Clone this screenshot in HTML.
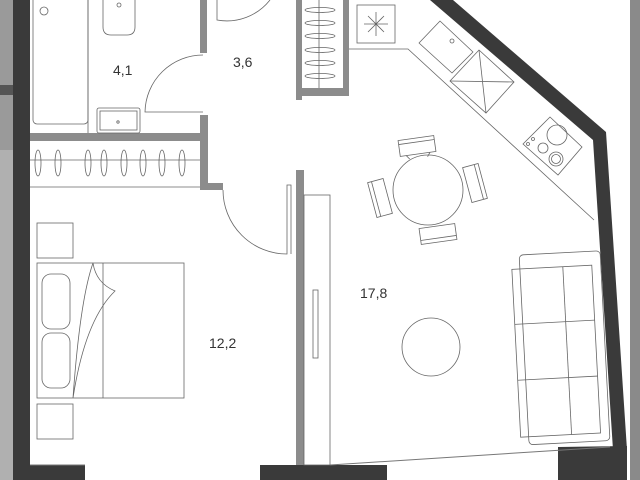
<!DOCTYPE html>
<html><head><meta charset="utf-8"><style>
html,body{margin:0;padding:0;background:#fff;width:640px;height:480px;overflow:hidden}
svg{display:block}
text{font-family:"Liberation Sans",sans-serif;font-size:14px;fill:#333}
</style></head><body>
<svg width="640" height="480" viewBox="0 0 640 480">
<rect x="0" y="0" width="13" height="480" fill="#9a9a9a"/>
<rect x="0" y="85" width="13" height="10" fill="#555"/>
<rect x="0" y="150" width="13" height="330" fill="#b0b0b0"/>
<rect x="630" y="0" width="10" height="480" fill="#8a8a8a"/>
<rect x="13" y="0" width="17" height="467" fill="#3a3a3a"/>
<rect x="13" y="465" width="72" height="15" fill="#3a3a3a"/>
<rect x="260" y="465" width="127" height="15" fill="#3a3a3a"/>
<polygon points="430,0 453,0 606,132 627,450 613,450 593,140" fill="#3a3a3a"/>
<polygon points="558,447 627,446 627,480 558,480" fill="#3a3a3a"/>
<g fill="none" stroke="#777" stroke-width="1">
<line x1="30" y1="465" x2="85" y2="465"/>
<line x1="330" y1="465" x2="610" y2="447"/>
</g>
<g fill="#8c8c8c">
<rect x="200" y="0" width="7" height="53"/>
<rect x="30" y="133" width="177" height="8"/>
<rect x="200" y="115" width="8" height="75"/>
<rect x="200" y="183" width="23" height="7"/>
<rect x="296" y="0" width="6" height="100"/>
<rect x="296" y="88" width="53" height="8"/>
<rect x="343" y="0" width="6" height="96"/>
<rect x="296" y="170" width="8" height="295"/>
</g>
<g fill="none" stroke="#666" stroke-width="0.8">
<rect x="33" y="-5" width="55" height="129" rx="4"/>
<line x1="88" y1="0" x2="88" y2="133"/>
<circle cx="44" cy="11" r="4"/>
<path d="M103,0 L103,27 Q103,35 111,35 L127,35 Q135,35 135,27 L135,0"/>
<circle cx="119" cy="5" r="2"/>
<rect x="97" y="108" width="43" height="25" rx="2"/>
<rect x="100" y="111" width="37" height="19"/>
<circle cx="118" cy="122" r="1.2"/>
<path d="M203,55 A58,58 0 0 0 145,112 L203,112"/>
<path d="M217,0 L217,20 A55,55 0 0 0 270,0"/>
<line x1="30" y1="160" x2="200" y2="160"/>
<line x1="30" y1="187" x2="200" y2="187"/>
<ellipse cx="38" cy="163" rx="3" ry="13"/>
<ellipse cx="58" cy="163" rx="3" ry="13"/>
<ellipse cx="88" cy="163" rx="3" ry="13"/>
<ellipse cx="104" cy="163" rx="3" ry="13"/>
<ellipse cx="124" cy="163" rx="3" ry="13"/>
<ellipse cx="143" cy="163" rx="3" ry="13"/>
<ellipse cx="162" cy="163" rx="3" ry="13"/>
<ellipse cx="182" cy="163" rx="3" ry="13"/>
<line x1="319" y1="0" x2="319" y2="88"/>
<ellipse cx="320" cy="10" rx="15" ry="2.5"/>
<ellipse cx="320" cy="23" rx="15" ry="2.5"/>
<ellipse cx="320" cy="36" rx="15" ry="2.5"/>
<ellipse cx="320" cy="50" rx="15" ry="2.5"/>
<ellipse cx="320" cy="63" rx="15" ry="2.5"/>
<ellipse cx="320" cy="76" rx="15" ry="2.5"/>
<path d="M223,190 A64,64 0 0 0 287,254 L287,185 L291,185 L291,254"/>
<rect x="304" y="195" width="26" height="270"/>
<rect x="313" y="290" width="5" height="68"/>
<rect x="357" y="5" width="38" height="38"/>
<path d="M376,12 V36 M364,24 H388 M368,16 L384,32 M384,16 L368,32"/>
<path d="M349,49 L408,49 L594,220"/>
<polygon points="419,43 440,21 473,52 452,73" stroke-linejoin="round"/>
<circle cx="452" cy="41" r="2"/>
<polygon points="450,81 479,50 514,82 486,113"/>
<path d="M450,81 L514,82 M479,50 L486,113"/>
<polygon points="523,144 550,117 582,147 558,175"/>
<circle cx="557" cy="135" r="10"/>
<circle cx="543" cy="148" r="5"/>
<circle cx="556" cy="159" r="7"/>
<circle cx="556" cy="159" r="4.5"/>
<circle cx="528" cy="144" r="1.5"/>
<circle cx="533" cy="139" r="1.5"/>
<circle cx="428" cy="190" r="35"/>
<g transform="rotate(-8 417 146)"><rect x="399" y="138" width="36" height="16"/><line x1="399" y1="142" x2="435" y2="142"/><line x1="405" y1="154" x2="408" y2="158"/><line x1="429" y1="154" x2="426" y2="158"/></g>
<g transform="rotate(-15 475 183)"><rect x="467" y="165" width="16" height="36"/><line x1="479" y1="165" x2="479" y2="201"/></g>
<g transform="rotate(-15 380 198)"><rect x="372" y="180" width="16" height="36"/><line x1="376" y1="180" x2="376" y2="216"/></g>
<g transform="rotate(-8 438 234)"><rect x="420" y="226" width="36" height="16"/><line x1="420" y1="238" x2="456" y2="238"/></g>
<circle cx="431" cy="347" r="29"/>
<g transform="rotate(-3 560 347)">
<rect x="524" y="253" width="81" height="190" rx="4"/>
<rect x="516" y="267" width="80" height="168"/>
<line x1="567" y1="267" x2="567" y2="435"/>
<line x1="516" y1="322" x2="596" y2="322"/>
<line x1="516" y1="378" x2="596" y2="378"/>
</g>
<rect x="37" y="223" width="36" height="35"/>
<rect x="37" y="404" width="36" height="35"/>
<rect x="37" y="263" width="147" height="135"/>
<rect x="42" y="274" width="28" height="55" rx="9"/>
<rect x="42" y="333" width="28" height="55" rx="9"/>
<line x1="103" y1="263" x2="103" y2="398"/>
<path d="M73,398 Q80,300 93,263 Q96,283 115,291 Q85,320 73,398"/>
</g>
<text x="113" y="75">4,1</text>
<text x="233" y="67">3,6</text>
<text x="209" y="348">12,2</text>
<text x="360" y="298">17,8</text>
</svg>
</body></html>
